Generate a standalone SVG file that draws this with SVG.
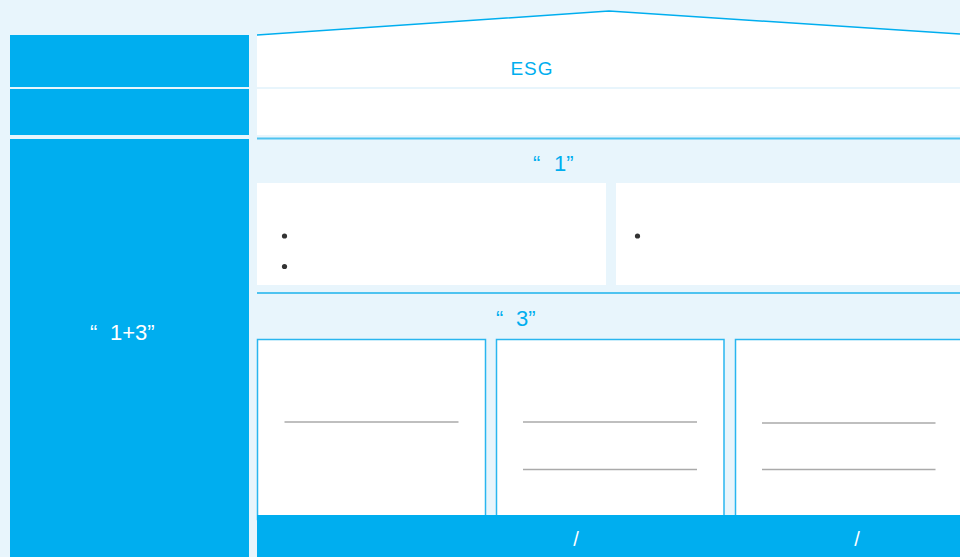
<svg xmlns="http://www.w3.org/2000/svg" width="960" height="557" viewBox="0 0 960 557">
<style>
.blue{fill:#00aeef}
.white{fill:#ffffff}
.sep{stroke:#4ec3f0;stroke-width:2;fill:none}
.card{fill:#ffffff;stroke:#29b6ef;stroke-width:1.5}
.rule{stroke:#aaaaaa;stroke-width:1.5}
.bullet{fill:#333333}
.t{font-family:"Liberation Sans","Noto Sans CJK SC",sans-serif}
.tb{fill:#00aeef}
.tw{fill:#ffffff}
</style>
<rect x="0" y="0" width="960" height="557" fill="#e8f5fc"/>
<g id="left-col">
<rect id="left-1" class="blue" x="10" y="35" width="239" height="52"/>
<rect id="left-2" class="blue" x="10" y="89" width="239" height="46"/>
<g id="left-3">
<rect class="blue" x="10" y="139" width="239" height="418"/>
<text class="t tw" y="340" font-size="22"><tspan x="90">“</tspan><tspan x="110">1+3”</tspan></text>
</g>
</g>
<g id="roof">
<polygon points="257,35 609,11 960,34 960,87 257,87" class="white"/>
<polyline points="257,35 609,11 960,34" fill="none" stroke="#00aeef" stroke-width="1.5"/>
<text class="t tb" x="532" y="75" font-size="19" text-anchor="middle" letter-spacing="1">ESG</text>
</g>
<g id="row-2"><rect class="white" x="257" y="89" width="703" height="46"/></g>
<g id="connectors">
<line class="sep" x1="257" y1="138.5" x2="960" y2="138.5"/>
<line class="sep" x1="257" y1="293" x2="960" y2="293"/>
</g>
<g id="section-1">
<text class="t tb" y="171" font-size="22"><tspan x="533">“</tspan><tspan x="554">1”</tspan></text>
</g>
<g id="box-1a">
<rect class="white" x="257" y="183" width="349" height="102"/>
<circle class="bullet" cx="284.5" cy="236" r="2.6"/>
<circle class="bullet" cx="284.5" cy="266.5" r="2.6"/>
</g>
<g id="box-1b">
<rect class="white" x="616" y="183" width="344" height="102"/>
<circle class="bullet" cx="637.5" cy="236" r="2.6"/>
</g>
<g id="section-3">
<text class="t tb" y="326" font-size="22"><tspan x="496">“</tspan><tspan x="516">3”</tspan></text>
</g>
<g id="card-1">
<rect class="card" x="257.5" y="339.5" width="228" height="180"/>
<line class="rule" x1="284.5" y1="422" x2="458.5" y2="422"/>
</g>
<g id="card-2">
<rect class="card" x="496.5" y="339.5" width="227.5" height="180"/>
<line class="rule" x1="523" y1="422" x2="697" y2="422"/>
<line class="rule" x1="523" y1="469.5" x2="697" y2="469.5"/>
</g>
<g id="card-3">
<rect class="card" x="735.5" y="339.5" width="240" height="180"/>
<line class="rule" x1="762" y1="423" x2="935.5" y2="423"/>
<line class="rule" x1="762" y1="469.5" x2="935.5" y2="469.5"/>
</g>
<g id="bottom-bar">
<rect class="blue" x="257" y="515" width="703" height="42"/>
<text class="t tw" x="576" y="546" font-size="20" text-anchor="middle">/</text>
<text class="t tw" x="857" y="546" font-size="20" text-anchor="middle">/</text>
</g>
</svg>
